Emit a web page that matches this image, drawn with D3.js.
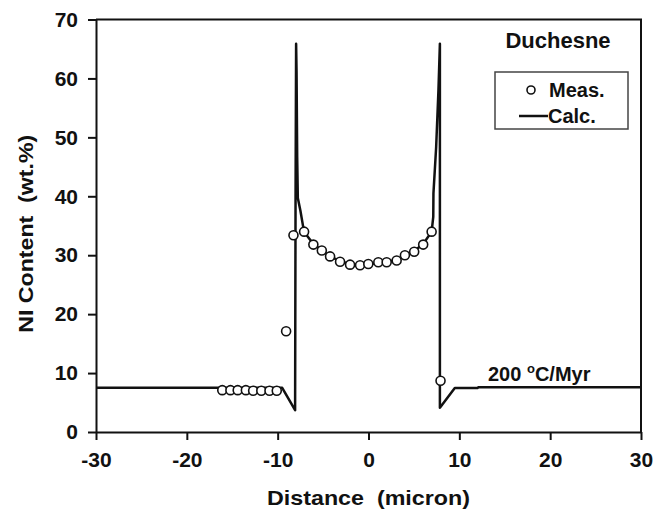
<!DOCTYPE html>
<html>
<head>
<meta charset="utf-8">
<script src="https://cdn.jsdelivr.net/npm/d3@7"></script>
<style>
  body { margin: 0; background: #fff; }
  svg text { font-family: "Liberation Sans", Arial, sans-serif; font-weight: bold; fill: #111; white-space: pre; }
</style>
</head>
<body>
<svg id="chart" width="667" height="520"></svg>
<script>
(function () {

    // Measured points (distance in micron, Ni wt.%)
    const measX = [-16.1, -15.2, -14.4, -13.5, -12.7, -11.8, -10.9, -10.1,
        -9.07, -8.26, -7.09, -6.07, -5.14, -4.23, -3.13, -2.03, -0.93, -0.02,
        1.08, 2.0, 3.1, 4.01, 5.03, 6.02, 6.95, 7.93];
    const measY = [7.1, 7.1, 7.1, 7.1, 7.0, 7.0, 7.0, 7.0,
        17.1, 33.4, 34.0, 31.8, 30.8, 29.8, 28.9, 28.4, 28.3, 28.5,
        28.8, 28.8, 29.1, 30.0, 30.6, 31.8, 34.0, 8.7];

    // Calculated profile
    const calcX = [-30, -9.5, -8.08, -8.03, -7.97, -7.92, -7.85, -7.78, -7.5, -7.1,
        -6.07, -5.14, -4.23, -3.13, -2.03, -0.93, -0.02, 1.08, 2.0, 3.1, 4.01,
        5.03, 6.02, 6.95, 7.13, 7.15, 7.45, 7.7, 7.86, 7.86, 9.5, 12.0, 12.1, 30];
    const calcY = [7.5, 7.5, 3.7, 40, 65.9, 61, 46.6, 39.7, 37.6, 34.0,
        31.9, 30.8, 29.8, 29.0, 28.5, 28.3, 28.4, 28.7, 28.9, 29.2, 29.9,
        30.7, 31.9, 34.0, 36.5, 40.5, 48.4, 58, 65.9, 4.1, 7.45, 7.45, 7.6, 7.6];

    const xTicks = [-30, -20, -10, 0, 10, 20, 30];
    const yTicks = [0, 10, 20, 30, 40, 50, 60, 70];

    const width = 667,
        height = 520,
        margin = { top: 19.5, right: 26, bottom: 88, left: 96 };

    const x = d3.scaleLinear().domain([-30, 30]).range([margin.left, width - margin.right]);
    const y = d3.scaleLinear().domain([0, 70]).range([height - margin.bottom, margin.top]);

    const svg = d3.select("#chart");

    // Frame (top and right)
    svg.append("path")
        .attr("d", `M${x(-30)},${y(70)}H${x(30)}V${y(0)}`)
        .attr("fill", "none")
        .attr("stroke", "#111")
        .attr("stroke-width", 2);

    // Axes
    const xAxis = svg.append("g")
        .attr("transform", `translate(0,${y(0)})`)
        .call(d3.axisBottom(x).tickValues(xTicks).tickFormat((d) => String(d))
            .tickSize(8).tickSizeOuter(0).tickPadding(12));

    const yAxis = svg.append("g")
        .attr("transform", `translate(${x(-30)},0)`)
        .call(d3.axisLeft(y).tickValues(yTicks).tickFormat((d) => String(d))
            .tickSize(8).tickSizeOuter(0).tickPadding(10));

    [xAxis, yAxis].forEach((g) => {
        g.select(".domain").attr("stroke", "#111").attr("stroke-width", 2);
        g.selectAll(".tick line").attr("stroke", "#111").attr("stroke-width", 2);
        g.selectAll(".tick text")
            .attr("font-family", null)
            .attr("font-size", null)
            .style("font-size", "21px")
            .attr("fill", "#111");
    });

    // Axis titles
    svg.append("text")
        .attr("x", x(0))
        .attr("y", 505)
        .attr("text-anchor", "middle")
        .attr("textLength", 203)
        .attr("lengthAdjust", "spacingAndGlyphs")
        .style("font-size", "21px")
        .text("Distance  (micron)");

    svg.append("text")
        .attr("transform", `translate(33,${(y(0) + y(70)) / 2 + 8}) rotate(-90)`)
        .attr("text-anchor", "middle")
        .attr("textLength", 198)
        .attr("lengthAdjust", "spacingAndGlyphs")
        .style("font-size", "21px")
        .text("NI Content  (wt.%)");

    // Calculated line
    const line = d3.line()
        .x((d) => x(d[0]))
        .y((d) => y(d[1]));

    svg.append("path")
        .datum(calcX.map((v, i) => [v, calcY[i]]))
        .attr("d", line)
        .attr("fill", "none")
        .attr("stroke", "#111")
        .attr("stroke-width", 2.5)
        .attr("stroke-linejoin", "round");

    // Measured circles
    svg.append("g")
        .selectAll("circle")
        .data(measX.map((v, i) => [v, measY[i]]))
        .enter().append("circle")
        .attr("cx", (d) => x(d[0]))
        .attr("cy", (d) => y(d[1]))
        .attr("r", 4.5)
        .attr("fill", "#fff")
        .attr("stroke", "#111")
        .attr("stroke-width", 1.6);

    // Title and legend
    svg.append("text")
        .attr("x", 558)
        .attr("y", 48)
        .attr("text-anchor", "middle")
        .style("font-size", "22px")
        .text("Duchesne");

    svg.append("rect")
        .attr("x", 495)
        .attr("y", 72)
        .attr("width", 133)
        .attr("height", 57)
        .attr("fill", "#fff")
        .attr("stroke", "#444")
        .attr("stroke-width", 1.5);

    svg.append("circle")
        .attr("cx", 531)
        .attr("cy", 90)
        .attr("r", 4)
        .attr("fill", "#fff")
        .attr("stroke", "#111")
        .attr("stroke-width", 1.6);

    svg.append("text")
        .attr("x", 549)
        .attr("y", 97)
        .style("font-size", "20px")
        .text("Meas.");

    svg.append("line")
        .attr("x1", 519)
        .attr("x2", 548)
        .attr("y1", 116)
        .attr("y2", 116)
        .attr("stroke", "#111")
        .attr("stroke-width", 2.5);

    svg.append("text")
        .attr("x", 548)
        .attr("y", 123)
        .style("font-size", "20px")
        .text("Calc.");

    // Rate annotation
    const note = svg.append("text")
        .attr("x", 488)
        .attr("y", 381)
        .style("font-size", "20px");
    note.append("tspan").text("200 ");
    note.append("tspan").attr("dy", -8).style("font-size", "13px").text("o");
    note.append("tspan").attr("dy", 8).text("C/Myr");

})();
</script>
</body>
</html>
